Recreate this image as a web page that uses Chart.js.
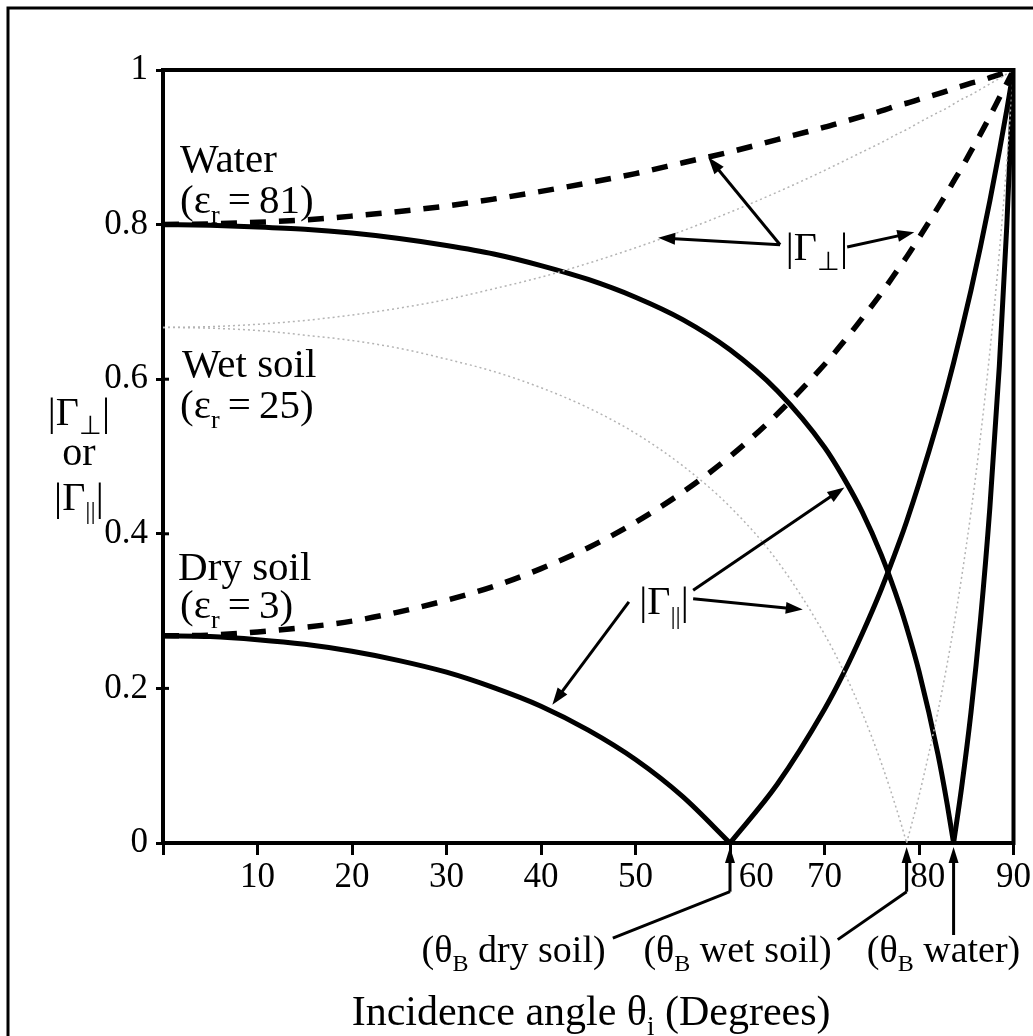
<!DOCTYPE html>
<html>
<head>
<meta charset="utf-8">
<script src="https://cdn.jsdelivr.net/npm/chart.js@4.4.1/dist/chart.umd.min.js"></script>
<style>
html,body{margin:0;padding:0;background:#fff;overflow:hidden}
canvas{display:block}
</style>
</head>
<body>
<canvas id="c" width="1033" height="1036"></canvas>
<script>
// ---- data ----
const angles    = [0,5,10,15,20,25,30,35,40,45,50,55,60,65,70,72,74,76,78,78.69,80,82,83,83.66,84.5,85.5,86.5,87.5,88.5,89.3,90];
const waterPerp = [0.800,0.801,0.803,0.806,0.811,0.817,0.824,0.833,0.843,0.854,0.866,0.880,0.894,0.910,0.926,0.933,0.940,0.947,0.955,0.957,0.962,0.969,0.973,0.976,0.979,0.983,0.986,0.990,0.994,0.997,1.000];
const waterPar  = [0.800,0.799,0.797,0.794,0.789,0.782,0.773,0.762,0.747,0.729,0.706,0.677,0.638,0.585,0.512,0.473,0.428,0.373,0.306,0.279,0.222,0.115,0.049,0.000,0.071,0.169,0.288,0.434,0.617,0.801,1.000];
const wetPerp   = [0.667,0.668,0.671,0.676,0.683,0.692,0.703,0.717,0.732,0.750,0.770,0.792,0.816,0.842,0.870,0.882,0.894,0.906,0.919,0.923,0.932,0.945,0.951,0.956,0.962,0.968,0.975,0.982,0.989,0.995,1.000];
const wetPar    = [0.667,0.666,0.663,0.657,0.650,0.640,0.626,0.610,0.589,0.563,0.530,0.488,0.435,0.365,0.270,0.223,0.168,0.104,0.029,0.000,0.061,0.170,0.233,0.279,0.343,0.428,0.525,0.636,0.764,0.883,1.000];
const dryPerp   = [0.268,0.269,0.273,0.279,0.287,0.299,0.314,0.332,0.355,0.382,0.415,0.454,0.500,0.555,0.619,0.648,0.679,0.711,0.746,0.758,0.783,0.822,0.842,0.856,0.873,0.895,0.917,0.940,0.964,0.983,1.000];
const dryPar    = [0.268,0.267,0.263,0.257,0.248,0.236,0.221,0.201,0.177,0.146,0.108,0.060,0.000,0.076,0.173,0.219,0.271,0.328,0.392,0.416,0.465,0.546,0.590,0.621,0.663,0.715,0.771,0.831,0.895,0.949,1.000];
const brewsterDry = 60, brewsterWet = 78.69, brewsterWater = 83.66;
const brewsterAngles = [brewsterDry, brewsterWet, brewsterWater];
const xTickValues = [0,10,20,30,40,50,60,70,80,90];
const xTickLabels = ['','10','20','30','40','50','60','70','80','90'];
const yTickValues = [0,0.2,0.4,0.6,0.8,1];
const yTickLabels = ['0','0.2','0.4','0.6','0.8','1'];

// ---- styling / helpers ----
const FAM = '"Liberation Serif","Times New Roman",Times,serif';
const seg = (arr,i0,i1) => angles.slice(i0,i1+1).map((a,j)=>({x:a, y:arr[i0+j]}));
const all = arr => seg(arr,0,angles.length-1);
const left = (arr,b) => seg(arr,0,angles.indexOf(b));
const right = (arr,b) => seg(arr,angles.indexOf(b),angles.length-1);
const xShift = {60:'      ', 80:'  '}; // labels nudged right as in the figure

function parseRich(s){
  const parts=[]; const re=/_\{([^}]*)\}/g; let last=0, m;
  while((m=re.exec(s))){ if(m.index>last) parts.push({t:s.slice(last,m.index)}); parts.push({t:m[1],sub:true}); last=re.lastIndex; }
  if(last<s.length) parts.push({t:s.slice(last)});
  return parts;
}
function rich(ctx, s, x, y, size, align){
  const parts=parseRich(s); let w=0;
  parts.forEach(p=>{ctx.font=(p.sub?Math.round(size*0.64):size)+'px '+FAM; p.w=ctx.measureText(p.t).width; w+=p.w;});
  let cx = align==='center'? x-w/2 : (align==='right'? x-w : x);
  ctx.textAlign='left'; ctx.textBaseline='alphabetic';
  parts.forEach(p=>{ctx.font=(p.sub?Math.round(size*0.64):size)+'px '+FAM; ctx.fillText(p.t, cx, y+(p.sub?size*0.24:0)); cx+=p.w;});
}
function arrow(ctx,x1,y1,x2,y2,lw,hl,hw){
  lw=lw||3; hl=hl||17; hw=hw||6;
  const a=Math.atan2(y2-y1,x2-x1), c=Math.cos(a), s=Math.sin(a);
  ctx.lineWidth=lw; ctx.lineCap='butt';
  ctx.beginPath(); ctx.moveTo(x1,y1); ctx.lineTo(x2-c*hl*0.7,y2-s*hl*0.7); ctx.stroke();
  ctx.beginPath(); ctx.moveTo(x2,y2);
  ctx.lineTo(x2-hl*c+hw*s, y2-hl*s-hw*c);
  ctx.lineTo(x2-hl*c-hw*s, y2-hl*s+hw*c);
  ctx.closePath(); ctx.fill();
}

// annotation placements, in data units (degrees, |Γ|)
const textNotes = [
  {s:'Water', x:1.8, y:0.868, size:41},
  {s:'(ε_{r}\u2009=\u200981)', x:1.8, y:0.815, size:41},
  {s:'Wet soil', x:2.0, y:0.603, size:41},
  {s:'(ε_{r}\u2009=\u200925)', x:1.8, y:0.550, size:41},
  {s:'Dry soil', x:1.6, y:0.340, size:41},
  {s:'(ε_{r}\u2009=\u20093)', x:1.8, y:0.291, size:41},
  {s:'|Γ_{⊥}|', x:65.9, y:0.754, size:40},
  {s:'|Γ_{||}|', x:50.4, y:0.296, size:40}
];
const arrowNotes = [
  [65.3,0.774, 57.7,0.887],
  [65.3,0.774, 52.4,0.783],
  [72.4,0.771, 79.5,0.790],
  [49.3,0.312, 41.2,0.179],
  [56.1,0.327, 72.1,0.460],
  [56.1,0.316, 67.7,0.302]
];
const bottomNotes = [
  {s:'(θ_{B} dry soil)', x:37.1, y:-0.154},
  {s:'(θ_{B} wet soil)', x:60.8, y:-0.154},
  {s:'(θ_{B} water)',    x:82.6, y:-0.154}
];
const bottomLeaders = [ // [vertical start y, bend-to x, bend-to y]
  [-0.063, 47.6, -0.123],
  [-0.063, 71.4, -0.125],
  [-0.119, null, null]
];

const deco = {
  id:'deco',
  afterDraw(chart){
    const {ctx, chartArea:a} = chart; const xs=chart.scales.x, ys=chart.scales.y;
    const X=v=>xs.getPixelForValue(v), Y=v=>ys.getPixelForValue(v);
    ctx.save();
    ctx.strokeStyle='#000'; ctx.fillStyle='#000';
    ctx.lineWidth=4; ctx.lineCap='square';
    ctx.beginPath(); ctx.moveTo(a.left,a.top); ctx.lineTo(a.right,a.top); ctx.lineTo(a.right,a.bottom); ctx.stroke();
    ctx.lineWidth=3; ctx.lineCap='butt';
    yTickValues.forEach(v=>{ctx.beginPath(); ctx.moveTo(a.left,Y(v)); ctx.lineTo(a.left+6,Y(v)); ctx.stroke();});
    ctx.lineWidth=3;
    ctx.beginPath(); ctx.moveTo(8,1036); ctx.lineTo(8,8); ctx.lineTo(1033,8); ctx.stroke();
    textNotes.forEach(n=>rich(ctx,n.s,X(n.x),Y(n.y),n.size,'left'));
    arrowNotes.forEach(r=>arrow(ctx,X(r[0]),Y(r[1]),X(r[2]),Y(r[3])));
    brewsterAngles.forEach((b,i)=>{
      const L=bottomLeaders[i];
      arrow(ctx,X(b),Y(L[0]),X(b),a.bottom+4,3,16,5);
      if(L[1]!==null){ctx.lineWidth=3; ctx.beginPath(); ctx.moveTo(X(b),Y(L[0])); ctx.lineTo(X(L[1]),Y(L[2])); ctx.stroke();}
    });
    bottomNotes.forEach(n=>rich(ctx,n.s,X(n.x),Y(n.y),38,'center'));
    rich(ctx,'Incidence angle θ_{i} (Degrees)',X(45.3),Y(-0.235),42,'center');
    rich(ctx,'|Γ_{⊥}|',X(-8.9),Y(0.541),40,'center');
    rich(ctx,'or',X(-8.9),Y(0.489),40,'center');
    rich(ctx,'|Γ_{||}|',X(-8.9),Y(0.431),40,'center');
    ctx.restore();
  }
};

const base = {pointRadius:0, fill:false, cubicInterpolationMode:'monotone'};
const faint = Object.assign({borderColor:'#b4b4b4', borderWidth:1.5, borderDash:[2,3]}, base);
const dashed = Object.assign({borderColor:'#000', borderWidth:5.5, borderDash:[16,13], borderCapStyle:'butt'}, base);
const solid = Object.assign({borderColor:'#000', borderWidth:5, borderCapStyle:'round', borderJoinStyle:'round'}, base);
const ds = (label,data,style) => Object.assign({label, data}, style);

new Chart(document.getElementById('c'), {
  type:'line',
  data:{datasets:[
    ds('Wet soil |Γ⊥|', all(wetPerp), faint),
    ds('Wet soil |Γ∥|', left(wetPar,brewsterWet), faint),
    ds('Wet soil |Γ∥| ', right(wetPar,brewsterWet), faint),
    ds('Water |Γ⊥|', all(waterPerp), dashed),
    ds('Dry soil |Γ⊥|', all(dryPerp), dashed),
    ds('Water |Γ∥|', left(waterPar,brewsterWater), solid),
    ds('Water |Γ∥| ', right(waterPar,brewsterWater), solid),
    ds('Dry soil |Γ∥|', left(dryPar,brewsterDry), solid),
    ds('Dry soil |Γ∥| ', right(dryPar,brewsterDry), solid)
  ]},
  options:{
    responsive:false, animation:false, devicePixelRatio:1,
    layout:{padding:{left:0, top:70, right:13, bottom:0}},
    plugins:{legend:{display:false}, tooltip:{enabled:false}},
    scales:{
      x:{type:'linear', min:0, max:90,
        afterBuildTicks:s=>{s.ticks=xTickValues.map(v=>({value:v}));},
        afterFit:s=>{s.height=193;},
        ticks:{autoSkip:false, maxRotation:0, padding:2, color:'#000', font:{family:FAM, size:35},
          callback:v=>{const i=xTickValues.indexOf(v); return i<0?'':(xShift[v]||'')+xTickLabels[i];}},
        grid:{drawOnChartArea:false, drawTicks:true, tickLength:12, tickWidth:3, tickColor:'#000'},
        border:{display:true, width:4, color:'#000'}
      },
      y:{type:'linear', min:0, max:1,
        afterBuildTicks:s=>{s.ticks=yTickValues.map(v=>({value:v}));},
        afterFit:s=>{s.width=163;},
        ticks:{autoSkip:false, padding:8, color:'#000', font:{family:FAM, size:35},
          callback:v=>{const i=yTickValues.indexOf(v); return i<0?'':yTickLabels[i];}},
        grid:{drawOnChartArea:false, drawTicks:true, tickLength:7, tickWidth:3, tickColor:'#000'},
        border:{display:true, width:4, color:'#000'}
      }
    }
  },
  plugins:[deco]
});
</script>
</body>
</html>
